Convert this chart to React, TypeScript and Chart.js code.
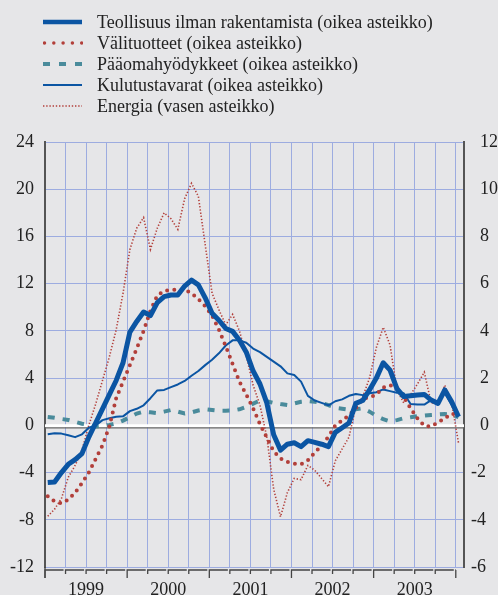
import React, { useEffect, useRef } from "react";
import { Chart, registerables } from "chart.js";

Chart.register(...registerables);

// ---- data (monthly, Jan 1999 – Jan 2004) ----
const months: string[] = Array.from({ length: 61 }, (_, i) =>
  `${1999 + Math.floor(i / 12)}-${String((i % 12) + 1).padStart(2, "0")}`
);

const yearLabels = ["1999", "2000", "2001", "2002", "2003"];

// right scale
const teollisuus = [
  -2.42, -2.4, -2.0, -1.65, -1.45, -1.2, -0.5, 0.1, 0.7, 1.3,
  1.9, 2.65, 3.95, 4.4, 4.8, 4.65, 5.2, 5.45, 5.52, 5.52,
  5.9, 6.15, 5.95, 5.4, 4.75, 4.45, 4.1, 3.98, 3.6, 3.1,
  2.3, 1.75, 0.95, -0.4, -1.05, -0.8, -0.74, -0.9, -0.65, -0.72,
  -0.8, -0.9, -0.3, -0.1, 0.1, 0.93, 1.05, 1.5, 2.0, 2.65,
  2.34, 1.55, 1.22, 1.25, 1.28, 1.31, 1.07, 0.93, 1.5, 1.0, 0.36,
];
const valituotteet = [
  -3.0, -3.22, -3.3, -3.15, -2.85, -2.45, -2.0, -1.42, -0.85, -0.05,
  1.15, 1.85, 2.55, 3.25, 4.0, 4.85, 5.5, 5.7, 5.73, 5.75,
  5.75, 5.6, 5.35, 5.05, 4.65, 4.05, 3.35, 2.6, 1.85, 1.3,
  0.72, 0.05, -0.52, -1.1, -1.4, -1.55, -1.62, -1.65, -1.48, -1.15,
  -0.85, -0.48, 0.0, 0.2, 0.42, 0.72, 1.13, 1.18, 1.3, 1.6,
  1.7, 1.6, 1.2, 0.72, 0.3, -0.02, -0.05, 0.12, 0.3, 0.5, 0.42,
];
const paaomahyodykkeet = [
  0.35, 0.32, 0.27, 0.23, 0.15, 0.07, 0.02, -0.05, -0.03, 0.02,
  0.08, 0.2, 0.35, 0.5, 0.58, 0.55, 0.52, 0.58, 0.65, 0.58,
  0.5, 0.55, 0.63, 0.68, 0.65, 0.62, 0.62, 0.63, 0.68, 0.78,
  0.92, 1.05, 1.02, 0.95, 0.9, 0.86, 0.93, 1.0, 1.03, 1.0,
  0.95, 0.86, 0.74, 0.7, 0.66, 0.68, 0.72, 0.58, 0.4, 0.26,
  0.17, 0.22, 0.3, 0.34, 0.39, 0.41, 0.44, 0.46, 0.48, 0.45, 0.35,
];
const kulutustavarat = [
  -0.38, -0.34, -0.35, -0.42, -0.5, -0.38, -0.1, 0.0, 0.22, 0.3,
  0.36, 0.38, 0.6, 0.7, 0.85, 1.15, 1.48, 1.5, 1.62, 1.73,
  1.88, 2.1, 2.3, 2.55, 2.78, 3.05, 3.38, 3.6, 3.6, 3.5,
  3.25, 3.1, 2.9, 2.7, 2.5, 2.2, 2.13, 1.85, 1.25, 1.05,
  0.95, 0.85, 1.02, 1.1, 1.25, 1.33, 1.28, 1.36, 1.4, 1.52,
  1.45, 1.38, 1.36, 0.9, 0.88, 0.88, 1.07, 1.0, 1.36, 0.86, 0.39,
];
// left scale
const energia = [
  -7.7, -7.1, -6.2, -4.4, -3.4, -2.1, 0.0, 1.8, 3.8, 5.8,
  8.1, 11.2, 14.9, 16.7, 17.6, 14.9, 16.7, 18.0, 17.5, 16.6,
  19.2, 20.5, 19.4, 15.3, 11.2, 9.8, 8.5, 9.4, 8.0, 5.9,
  3.4, 1.7, -1.0, -5.4, -7.75, -5.7, -4.5, -4.6, -3.4, -3.8,
  -4.5, -5.2, -3.0, -2.0, -1.0, 1.6, 2.4, 4.0, 6.6, 8.3,
  6.8, 3.0, 1.9, 2.6, 3.5, 4.5, 1.9, 1.9, 3.4, 1.9, -1.5,
];

const leftTicks = [-12, -8, -4, 0, 4, 8, 12, 16, 20, 24];
const rightTicks = [-6, -4, -2, 0, 2, 4, 6, 8, 10, 12];

const seriesNames = [
  "Teollisuus ilman rakentamista (oikea asteikko)",
  "Välituotteet (oikea asteikko)",
  "Pääomahyödykkeet (oikea asteikko)",
  "Kulutustavarat (oikea asteikko)",
  "Energia (vasen asteikko)",
];

// ---- styles ----
const BG = "#e6e6e8";
const GRID = "#9dace0";
const AXIS = "#555555";
const BLUE = "#0b55a3";
const RED = "#b23f3a";
const TEAL = "#4a8b9b";
const TEXT = "#222222";
const FONT = "'Liberation Serif', 'Times New Roman', serif";
const POINT_OFFSET = 0.4;

const toPoints = (vals: number[]) =>
  vals.map((v, i) => ({ x: i + POINT_OFFSET, y: v, m: months[i] }));

const decorPlugin = {
  id: "decor",
  beforeDatasetsDraw(chart: any) {
    const { ctx, chartArea, scales } = chart;
    const y0 = scales.y.getPixelForValue(0);
    ctx.save();
    ctx.strokeStyle = "#ffffff";
    ctx.lineWidth = 3;
    ctx.beginPath();
    ctx.moveTo(chartArea.left, y0 + 0.5);
    ctx.lineTo(chartArea.right, y0 + 0.5);
    ctx.stroke();
    ctx.strokeStyle = "#666666";
    ctx.lineWidth = 1.2;
    ctx.beginPath();
    ctx.moveTo(chartArea.left, y0 + 2.6);
    ctx.lineTo(chartArea.right, y0 + 2.6);
    ctx.stroke();
    ctx.restore();
  },
  afterDraw(chart: any) {
    const { ctx, chartArea, scales } = chart;
    const xs = scales.x;
    const base = chartArea.bottom + 3;
    ctx.save();
    ctx.strokeStyle = "#444444";
    ctx.lineWidth = 1.3;
    ctx.beginPath();
    ctx.moveTo(chartArea.left, chartArea.bottom);
    ctx.lineTo(chartArea.left, base + 8);
    ctx.stroke();
    for (let q = 0; q <= 60; q += 3) {
      const px = xs.getPixelForValue(q);
      const nx = xs.getPixelForValue(Math.min(q + 3, 60.3));
      const len = q % 12 === 0 ? 8 : 4;
      ctx.beginPath();
      ctx.moveTo(px, base + len);
      ctx.lineTo(px, base);
      ctx.lineTo(nx - 2, base);
      ctx.stroke();
    }
    ctx.restore();
  },
};

function LegendSample({ kind }: { kind: number }) {
  const w = 40;
  const h = 20;
  const y = 10;
  if (kind === 0)
    return (
      <svg width={w} height={h}>
        <line x1={0} y1={y} x2={39} y2={y} stroke={BLUE} strokeWidth={4.5} />
      </svg>
    );
  if (kind === 1)
    return (
      <svg width={w} height={h}>
        <line x1={1.5} y1={y} x2={39} y2={y} stroke={RED} strokeWidth={3.5}
          strokeLinecap="round" strokeDasharray="0 9.3" />
      </svg>
    );
  if (kind === 2)
    return (
      <svg width={w} height={h}>
        <line x1={0} y1={y} x2={39} y2={y} stroke={TEAL} strokeWidth={4}
          strokeDasharray="7 9" />
      </svg>
    );
  if (kind === 3)
    return (
      <svg width={w} height={h}>
        <line x1={0} y1={y} x2={39} y2={y} stroke={BLUE} strokeWidth={2} />
      </svg>
    );
  return (
    <svg width={w} height={h}>
      <line x1={0} y1={y} x2={39} y2={y} stroke={RED} strokeWidth={1.6}
        strokeDasharray="1.4 1.8" />
    </svg>
  );
}

export default function App() {
  const ref = useRef<HTMLCanvasElement>(null);

  useEffect(() => {
    if (!ref.current) return;
    const tickFont = { family: FONT, size: 18 };
    const chart = new Chart(ref.current, {
      type: "line",
      data: {
        datasets: [
          {
            label: seriesNames[0],
            data: toPoints(teollisuus),
            yAxisID: "y2",
            borderColor: BLUE,
            borderWidth: 5,
            borderJoinStyle: "round",
            pointRadius: 0,
            order: 0,
          },
          {
            label: seriesNames[1],
            data: toPoints(valituotteet),
            yAxisID: "y2",
            borderColor: RED,
            borderWidth: 4,
            borderDash: [0, 7.2],
            borderCapStyle: "round",
            pointRadius: 0,
            order: 1,
          },
          {
            label: seriesNames[2],
            data: toPoints(paaomahyodykkeet),
            yAxisID: "y2",
            borderColor: TEAL,
            borderWidth: 4,
            borderDash: [7, 8],
            pointRadius: 0,
            order: 3,
          },
          {
            label: seriesNames[3],
            data: toPoints(kulutustavarat),
            yAxisID: "y2",
            borderColor: BLUE,
            borderWidth: 2,
            borderJoinStyle: "round",
            pointRadius: 0,
            order: 2,
          },
          {
            label: seriesNames[4],
            data: toPoints(energia),
            yAxisID: "y",
            borderColor: RED,
            borderWidth: 1.6,
            borderDash: [1.3, 1.9],
            pointRadius: 0,
            order: 4,
          },
        ] as any,
      },
      options: {
        animation: false,
        responsive: false,
        devicePixelRatio: 1,
        layout: { padding: { top: 142, left: 0, right: 0, bottom: 0 } },
        plugins: {
          legend: { display: false },
          tooltip: { enabled: false },
        },
        elements: { line: { tension: 0, fill: false } },
        scales: {
          x: {
            type: "linear",
            min: 0,
            max: 61.2,
            afterBuildTicks: (s: any) => {
              const t: any[] = [];
              for (let q = 0; q <= 60; q += 3) t.push({ value: q });
              s.ticks = t;
            },
            afterFit: (s: any) => {
              s.height = 28;
            },
            grid: { color: GRID, lineWidth: 1, drawTicks: false },
            border: { display: false },
            ticks: {
              autoSkip: false,
              maxRotation: 0,
              padding: 12,
              color: TEXT,
              font: tickFont,
              callback: (v: any) => {
                const n = Number(v);
                return (n - 6) % 12 === 0 ? yearLabels[(n - 6) / 12] : "";
              },
            },
          },
          y: {
            type: "linear",
            position: "left",
            min: leftTicks[0],
            max: leftTicks[leftTicks.length - 1],
            afterBuildTicks: (s: any) => {
              s.ticks = leftTicks.map((v) => ({ value: v }));
            },
            afterFit: (s: any) => {
              s.width = 45;
            },
            grid: { color: GRID, lineWidth: 1, drawTicks: false },
            border: { display: true, color: AXIS, width: 2 },
            ticks: { padding: 11, color: TEXT, font: tickFont },
          },
          y2: {
            type: "linear",
            position: "right",
            min: rightTicks[0],
            max: rightTicks[rightTicks.length - 1],
            afterBuildTicks: (s: any) => {
              s.ticks = rightTicks.map((v) => ({ value: v }));
            },
            afterFit: (s: any) => {
              s.width = 34;
            },
            grid: { display: false, drawTicks: false },
            border: { display: true, color: AXIS, width: 2 },
            ticks: {
              padding: 7,
              color: TEXT,
              font: tickFont,
              callback: (v: any) => (Number(v) < 0 ? String(v) : "\u2002" + v),
            },
          },
        },
      } as any,
      plugins: [decorPlugin],
    });
    return () => chart.destroy();
  }, []);

  const rowCenters = [21.5, 42.7, 63.7, 85, 106.3];

  return (
    <div
      style={{
        position: "fixed",
        left: 0,
        top: 0,
        width: 498,
        height: 595,
        background: BG,
        overflow: "hidden",
      }}
    >
      <canvas
        ref={ref}
        width={498}
        height={595}
        style={{ position: "absolute", left: 0, top: 0, width: 498, height: 595 }}
      />
      {seriesNames.map((name, i) => (
        <div
          key={name}
          style={{
            position: "absolute",
            left: 0,
            top: rowCenters[i] - 10,
            height: 20,
            width: 498,
          }}
        >
          <div style={{ position: "absolute", left: 43, top: 0 }}>
            <LegendSample kind={i} />
          </div>
          <div
            style={{
              position: "absolute",
              left: 97,
              top: 0,
              lineHeight: "20px",
              fontFamily: FONT,
              fontSize: 18,
              color: TEXT,
              whiteSpace: "nowrap",
            }}
          >
            {name}
          </div>
        </div>
      ))}
    </div>
  );
}
